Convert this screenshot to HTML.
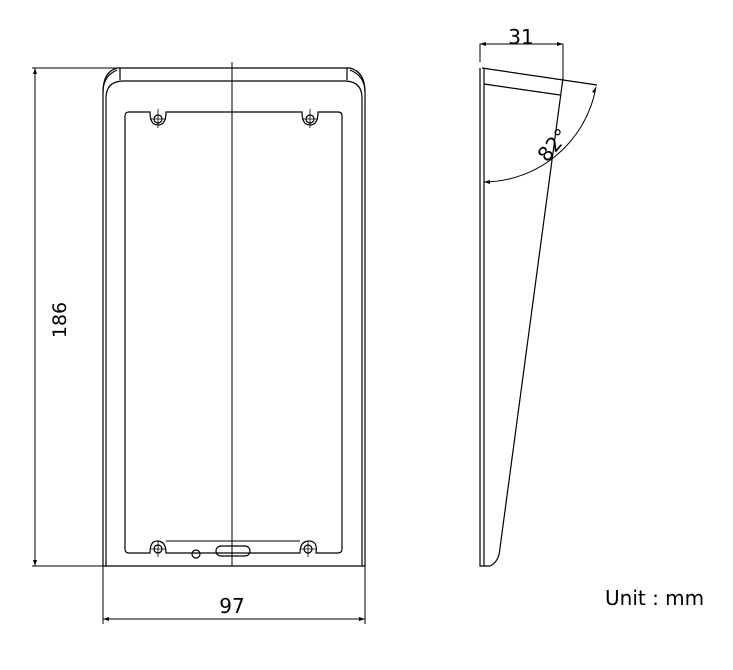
<!DOCTYPE html>
<html><head><style>body{margin:0;background:#fff}svg{display:block}</style></head><body>
<svg width="733" height="670" viewBox="0 0 733 670" xmlns="http://www.w3.org/2000/svg" font-family="DejaVu Sans, Liberation Sans, sans-serif">
<g fill="none" stroke="#000" stroke-width="1.2">
<path d="M103 566 V92 Q103 76 117 70 M365 566 V92 Q365 76 350 70"/>
<path d="M117 68 H350 Q365 72 365 92"/>
<path d="M117 68 Q103 72 103 92"/>
<path d="M120 68 V80 M347 68 V80"/>
<path d="M106 566 V98 Q106 82 122 81 H346 Q362 82 362 98 V566"/>
<path d="M103 566 H365"/>
<path d="M129 112 H150 Q150 125 158 125 Q166 125 166 112 H302 Q302 125 310 125 Q318 125 318 112 H338 Q342 112 342 116 V549 Q342 553 338 553 H316 Q318 541 309 541 Q300 541 300 553 H166 Q166 541 157 541 Q150 541 150 553 H129 Q125 553 125 549 V116 Q125 112 129 112 Z"/>
<path d="M166 541 H300" stroke-width="1"/>
<circle cx="158" cy="119" r="4"/><circle cx="310" cy="119" r="4"/>
<circle cx="158" cy="549" r="4"/><circle cx="308" cy="549" r="4"/>
<path d="M150 119 H166 M158 109 V128 M302 119 H318 M310 109 V128 M150 549 H166 M158 541 V557 M300 549 H316 M308 541 V557" stroke-width="0.8"/>
<circle cx="196" cy="554" r="4"/>
<rect x="216" y="546" width="34" height="10" rx="5"/>
<path d="M232 62 V566" stroke-width="1"/>
<path d="M32 68 H117 M35 68 V566 M32 566 H103" stroke-width="1"/>
<path d="M103 566 V624 M365 566 V624 M103 619 H365" stroke-width="1"/>
<path d="M480 68 V566 H490 Q499 562 500 548 L563 78"/>
<path d="M484 68 V566"/>
<path d="M482 68 L597 85"/>
<path d="M484 84 L560 95"/>
<path d="M480 62 V44 H563 M563 44 V78" stroke-width="1"/>
<path d="M596 87 A115 115 0 0 1 484 182" stroke-width="1"/>
</g>
<g fill="#000" stroke="none">
<path d="M35 68 l-2 6 h4z M35 566 l-2 -6 h4z M103 619 l6 -2 v4z M365 619 l-6 -2 v4z M480 44 l6 -2 v4z M563 44 l-6 -2 v4z M596 87 l-1 6 l-3 -1z M484 182 l6 -2 v4z"/>
</g>
<text x="66" y="320" font-size="19" text-anchor="middle" transform="rotate(-90 66 320)">186</text>
<text x="232" y="613" font-size="20" text-anchor="middle">97</text>
<text x="521" y="44" font-size="20" text-anchor="middle">31</text>
<text x="553" y="152" font-size="20" text-anchor="middle" transform="rotate(-50 553 145)">82°</text>
<text x="605" y="605" font-size="20">Unit : mm</text>
</svg>
</body></html>
